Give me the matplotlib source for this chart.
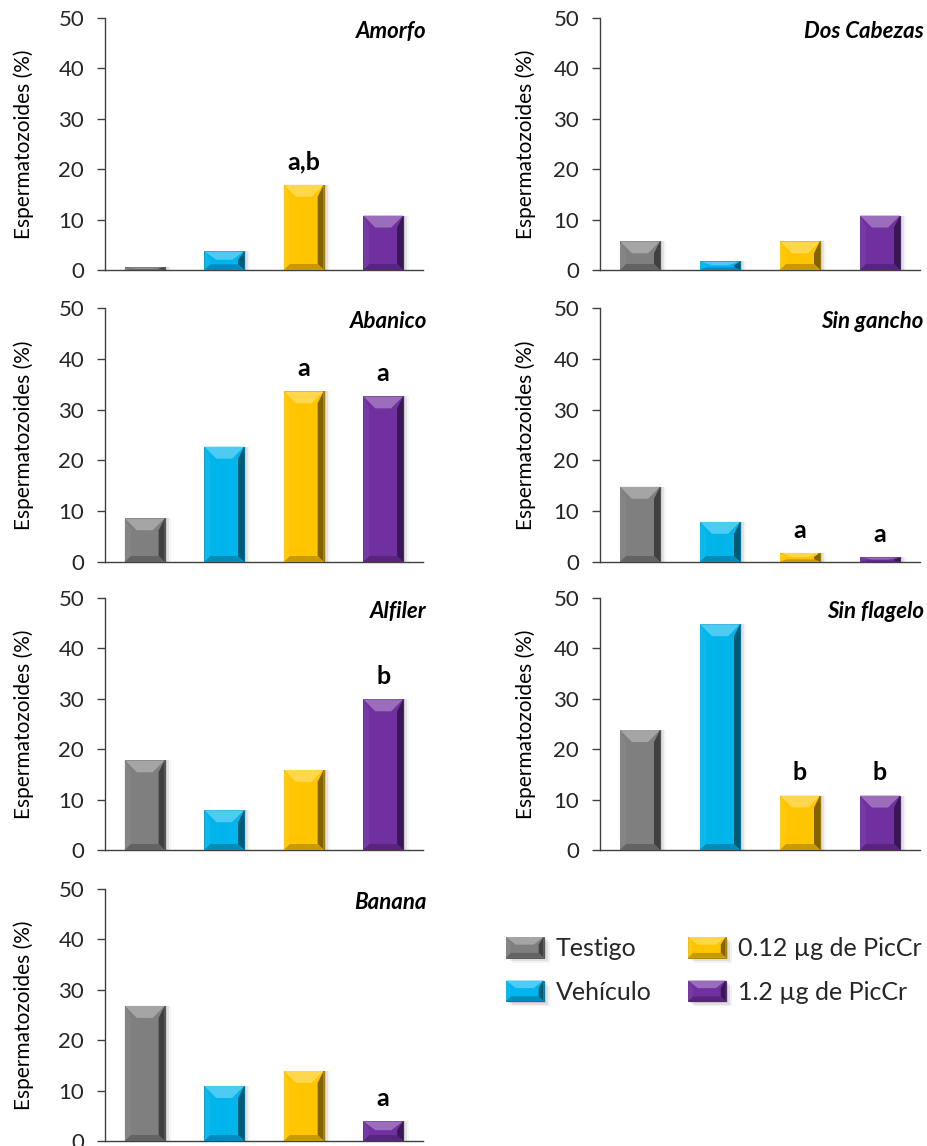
import matplotlib
matplotlib.use("Agg")
import matplotlib.pyplot as plt
from matplotlib.patches import Polygon, Rectangle
from matplotlib.legend_handler import HandlerBase
from matplotlib.colors import to_rgb
import numpy as np

plt.rcParams['font.family'] = ['Lato', 'DejaVu Sans']

# ---------------- data ----------------
categories = ['Testigo', 'Vehículo', '0.12 µg de PicCr', '1.2 µg de PicCr']
panel_titles = ['Amorfo', 'Dos Cabezas', 'Abanico', 'Sin gancho',
                'Alfiler', 'Sin flagelo', 'Banana']
amorfo = [0.5, 3.7, 16.9, 10.8]
dos_cabezas = [5.7, 1.7, 5.7, 10.8]
abanico = [8.6, 22.7, 33.6, 32.6]
sin_gancho = [14.8, 7.9, 1.8, 0.9]
alfiler = [17.8, 7.9, 15.9, 29.9]
sin_flagelo = [23.8, 44.8, 10.8, 10.8]
banana = [26.8, 10.9, 13.9, 3.9]
series = [amorfo, dos_cabezas, abanico, sin_gancho, alfiler, sin_flagelo, banana]

letters_amorfo = ['', '', 'a,b', '']
letters_dos_cabezas = ['', '', '', '']
letters_abanico = ['', '', 'a', 'a']
letters_sin_gancho = ['', '', 'a', 'a']
letters_alfiler = ['', '', '', 'b']
letters_sin_flagelo = ['', '', 'b', 'b']
letters_banana = ['', '', '', 'a']
letters = [letters_amorfo, letters_dos_cabezas, letters_abanico, letters_sin_gancho,
           letters_alfiler, letters_sin_flagelo, letters_banana]

yticks = [0, 10, 20, 30, 40, 50]
ylabel = 'Espermatozoides (%)'

colors = ['#7F7F7F', '#00B4EC', '#FFC600', '#7030A0']

# ---------------- helpers ----------------
def mix(c, other, f):
    c = np.array(to_rgb(c)); o = np.array(to_rgb(other))
    return tuple(c * (1 - f) + o * f)

def bevel_polys(x0, y0, w, h, color, sx, tx, ty, by, transform):
    """Return polygons for a bevelled rectangle (units of transform)."""
    x1, y1 = x0 + w, y0 + h
    ty = min(ty, 0.45 * h)
    by = min(by, 0.3 * h)
    polys = []
    polys.append(Polygon([(x0, y0), (x0 + sx, y0 + by), (x0 + sx, y1 - ty), (x0, y1)],
                         closed=True, fc=mix(color, 'white', 0.05), ec='none', transform=transform))
    polys.append(Polygon([(x1, y0), (x1 - sx, y0 + by), (x1 - sx, y1 - ty), (x1, y1)],
                         closed=True, fc=mix(color, 'black', 0.5), ec='none', transform=transform))
    polys.append(Polygon([(x0, y0), (x1, y0), (x1 - sx, y0 + by), (x0 + sx, y0 + by)],
                         closed=True, fc=mix(color, 'black', 0.22), ec='none', transform=transform))
    polys.append(Polygon([(x0, y1), (x1, y1), (x1 - tx, y1 - ty), (x0 + tx, y1 - ty)],
                         closed=True, fc=mix(color, 'white', 0.3), ec='none', transform=transform))
    return polys

class BevelHandler(HandlerBase):
    def create_artists(self, legend, orig_handle, xdescent, ydescent,
                       width, height, fontsize, trans):
        color = orig_handle.get_facecolor()
        x0, y0 = -xdescent, -ydescent
        arts = []
        for k, a in enumerate([0.12, 0.08, 0.05]):
            arts.append(Rectangle((x0 + 1.5 * (k + 1), y0 - 1.2 * (k + 1)), width, height,
                                  fc='black', alpha=a, ec='none', transform=trans))
        base = Rectangle((x0, y0), width, height, fc=color, ec=mix(color, 'black', 0.4),
                         lw=0.6, transform=trans)
        arts.append(base)
        arts += bevel_polys(x0, y0, width, height, color, 3.5, 7, 5.5, 3.5, trans)
        return arts

# ---------------- figure ----------------
W, H = 927, 1146
fig = plt.figure(figsize=(W / 100, H / 100), dpi=100)

col_px = [(105, 318), (600, 320)]
row_px = [(18, 270), (308, 562), (598, 850), (889, 1141)]
slots = [(0, 0), (0, 1), (1, 0), (1, 1), (2, 0), (2, 1), (3, 0)]
label_right_px = [34, 536]

tick_color = '#262626'
x = np.arange(len(categories))
bar_w = 0.5

for title, vals, labs, (r, c) in zip(panel_titles, series, letters, slots):
    left, width = col_px[c]
    top, bottom = row_px[r]
    ax = fig.add_axes([left / W, 1 - bottom / H, width / W, (bottom - top) / H])
    ax.set_xlim(-0.5, len(categories) - 0.5)
    ax.set_ylim(0, 50)
    pxx = (len(categories)) / width
    pxy = 50.0 / (bottom - top)

    for k, a in enumerate([0.10, 0.07, 0.04]):
        ax.bar(x + (2 + 2 * k) * pxx, vals, bar_w, bottom=0, color='black', alpha=a,
               zorder=1, linewidth=0)
    bars = ax.bar(x, vals, bar_w, color=colors, zorder=2,
                  edgecolor=[mix(cc, 'black', 0.45) for cc in colors], linewidth=0.6)
    for b, cc in zip(bars, colors):
        for p in bevel_polys(b.get_x(), b.get_y(), b.get_width(), b.get_height(), cc,
                             6 * pxx, 12 * pxx, 12 * pxy, 6 * pxy, ax.transData):
            p.set_zorder(3)
            ax.add_patch(p)

    for xi, v, lab in zip(x, vals, labs):
        if lab:
            ax.annotate(lab, (xi, v), xytext=(0, 8), textcoords='offset points',
                        ha='center', va='bottom', fontsize=18, fontweight='bold',
                        color='black', zorder=5)

    ax.text(1.012, 0.99, title, transform=ax.transAxes, ha='right', va='top',
            fontsize=16, fontweight='bold', fontstyle='italic', color='black')

    for s in ['top', 'right']:
        ax.spines[s].set_visible(False)
    for s in ['left', 'bottom']:
        ax.spines[s].set_color('#404040')
        ax.spines[s].set_linewidth(1.0)
    ax.set_xticks([])
    ax.set_yticks(yticks)
    ax.tick_params(axis='y', direction='out', length=6, width=1.0, color='#404040',
                   labelsize=16, labelcolor=tick_color, pad=9)
    ax.set_ylabel(ylabel, fontsize=15, color='black')
    ax.yaxis.set_label_coords((label_right_px[c] - left) / width, 0.5)
    ax.patch.set_alpha(0)

handles = [Rectangle((0, 0), 1, 1, fc=cc) for cc in colors]
fig.legend(handles, categories, handler_map={Rectangle: BevelHandler()},
           loc='upper left', bbox_to_anchor=(506 / W, 1 - 937 / H), ncol=2,
           frameon=False, fontsize=18, handlelength=1.5, handleheight=0.9,
           handletextpad=0.5, columnspacing=1.45, labelspacing=0.82,
           borderpad=0, borderaxespad=0, labelcolor='#262626')

fig.savefig('out.png', dpi=100, facecolor='white')
